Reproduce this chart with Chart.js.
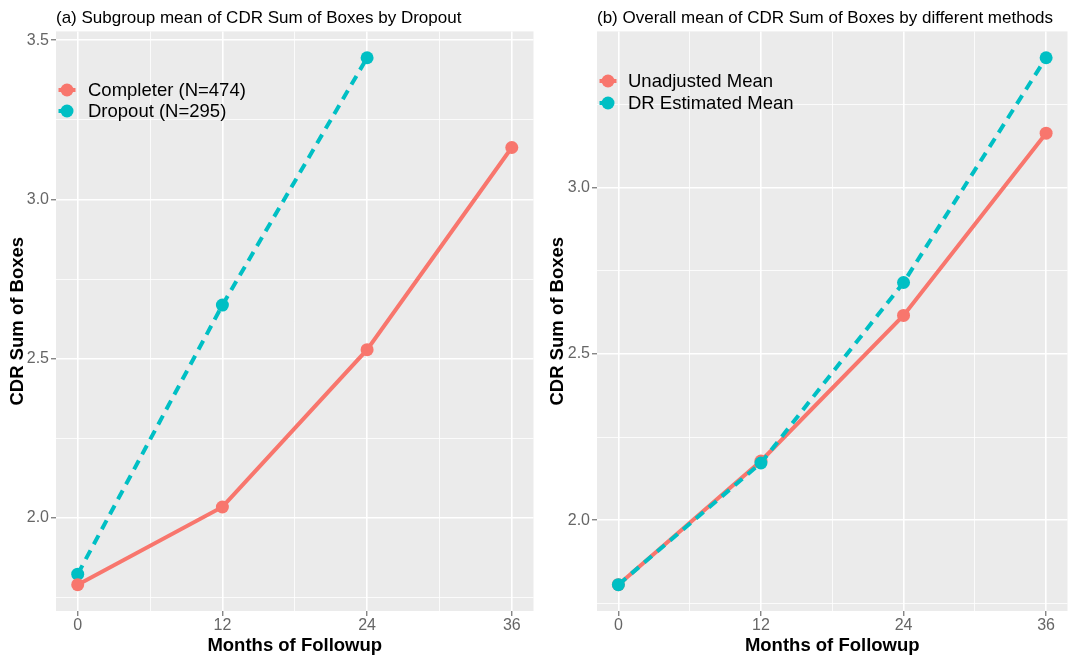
<!DOCTYPE html>
<html>
<head>
<meta charset="utf-8">
<script src="https://cdn.jsdelivr.net/npm/chart.js@4.4.1/dist/chart.umd.min.js"></script>
<style>
    html, body { margin: 0; padding: 0; background: #ffffff; }
    #wrap { position: relative; width: 1074px; height: 658px; }
    canvas { position: absolute; top: 0; }
    #chartA { left: 0; }
    #chartB { left: 540px; }
</style>
</head>
<body>
<div id="wrap">
    <canvas id="chartA" width="540" height="658"></canvas>
    <canvas id="chartB" width="534" height="658"></canvas>
</div>
<script>
// ggplot-like colours
const gg = {
    red: '#F8766D',
    cyan: '#00BFC4',
    panel: '#EBEBEB',
    grid: '#FFFFFF',
    tickText: '#666666',
    tickMark: '#555555',
    text: '#000000'
};

// Data
const months = [0, 12, 24, 36];
const completer = [1.790, 2.034, 2.528, 3.163];
const dropoutMonths = [0, 12, 24];
const dropout = [1.823, 2.668, 3.445];
const unadjusted = [1.806, 2.178, 2.616, 3.164];
const drEstimated = [1.806, 2.172, 2.715, 3.391];

// Axis ticks
const xMajor = [0, 12, 24, 36];
const xMinor = [6, 18, 30];
const yMajorA = [2.0, 2.5, 3.0, 3.5];
const yMajorB = [2.0, 2.5, 3.0];
const yMinor = [1.75, 2.25, 2.75, 3.25];

Chart.defaults.font.family = "'Liberation Sans', Arial, sans-serif";
Chart.defaults.animation = false;

const toPoints = (xs, ys) => xs.map((x, i) => ({ x: x, y: ys[i] }));

// ggplot style expansion of 5% on both sides
function expand(values) {
    const lo = Math.min(...values), hi = Math.max(...values);
    const pad = (hi - lo) * 0.05;
    return { min: lo - pad, max: hi + pad };
}

// Grey panel behind the grid
const panelBackground = {
    id: 'panelBackground',
    beforeDraw(chart) {
        const { ctx, chartArea: a } = chart;
        ctx.save();
        ctx.fillStyle = gg.panel;
        ctx.fillRect(a.left, a.top, a.right - a.left, a.bottom - a.top);
        ctx.restore();
    }
};

// Legend drawn inside the panel, ggplot style keys
const insideLegend = {
    id: 'insideLegend',
    afterDatasetsDraw(chart, args, opts) {
        const ctx = chart.ctx;
        chart.data.datasets.forEach((ds, i) => {
            const cx = opts.x, cy = opts.y + i * opts.gap;
            ctx.save();
            ctx.strokeStyle = ds.borderColor;
            ctx.lineWidth = ds.borderWidth;
            ctx.setLineDash(ds.borderDash || []);
            ctx.beginPath();
            ctx.moveTo(cx - 8.5, cy);
            ctx.lineTo(cx + 8.5, cy);
            ctx.stroke();
            ctx.setLineDash([]);
            ctx.fillStyle = ds.borderColor;
            ctx.beginPath();
            ctx.arc(cx, cy, 6.5, 0, Math.PI * 2);
            ctx.fill();
            ctx.fillStyle = gg.text;
            ctx.font = "18.5px 'Liberation Sans', Arial, sans-serif";
            ctx.textBaseline = 'middle';
            ctx.textAlign = 'left';
            ctx.fillText(ds.label, opts.textX, cy + 1);
            ctx.restore();
        });
    }
};

function seriesStyle(color, dashed) {
    return {
        borderColor: color,
        backgroundColor: color,
        borderWidth: 4,
        borderDash: dashed ? [10, 7] : [],
        pointRadius: 6.5,
        pointBorderWidth: 0,
        pointBackgroundColor: color,
        tension: 0,
        fill: false
    };
}

function makeOptions(p) {
    const yRange = expand(p.yValues);
    return {
        responsive: false,
        layout: { padding: { left: 0, right: p.padRight, top: 0, bottom: 0 } },
        plugins: {
            legend: { display: false },
            tooltip: { enabled: false },
            title: {
                display: true,
                text: p.title,
                align: 'start',
                fullSize: false,
                color: gg.text,
                font: { size: 17, weight: 'normal' },
                padding: { top: 8, bottom: 3 }
            },
            insideLegend: p.legend
        },
        scales: {
            x: {
                type: 'linear',
                min: -1.8,
                max: 37.8,
                afterBuildTicks: (s) => { s.ticks = xMajor.concat(xMinor).sort((a, b) => a - b).map(v => ({ value: v })); },
                afterFit: (s) => { s.height = 47; },
                ticks: {
                    color: gg.tickText,
                    font: { size: 16 },
                    padding: 0,
                    maxRotation: 0,
                    autoSkip: false,
                    callback: (v) => xMajor.includes(v) ? String(v) : ''
                },
                grid: {
                    color: gg.grid,
                    lineWidth: (c) => xMajor.includes(c.tick.value) ? 1.6 : 0.8,
                    tickColor: (c) => xMajor.includes(c.tick.value) ? gg.tickMark : 'rgba(0,0,0,0)',
                    tickLength: 5,
                    tickWidth: 1
                },
                border: { display: false },
                title: {
                    display: true,
                    text: 'Months of Followup',
                    color: gg.text,
                    font: { size: 18.5, weight: 'bold' },
                    padding: { top: 0, bottom: 1 }
                }
            },
            y: {
                type: 'linear',
                min: yRange.min,
                max: yRange.max,
                afterBuildTicks: (s) => { s.ticks = p.yMajor.concat(yMinor).sort((a, b) => a - b).map(v => ({ value: v })); },
                afterFit: (s) => { s.width = p.yWidth; },
                ticks: {
                    color: gg.tickText,
                    font: { size: 16 },
                    padding: 2,
                    autoSkip: false,
                    callback: (v) => p.yMajor.includes(v) ? v.toFixed(1) : ''
                },
                grid: {
                    color: gg.grid,
                    lineWidth: (c) => p.yMajor.includes(c.tick.value) ? 1.6 : 0.8,
                    tickColor: (c) => p.yMajor.includes(c.tick.value) ? gg.tickMark : 'rgba(0,0,0,0)',
                    tickLength: 5,
                    tickWidth: 1
                },
                border: { display: false },
                title: {
                    display: true,
                    text: 'CDR Sum of Boxes',
                    color: gg.text,
                    font: { size: 18.5, weight: 'bold' },
                    padding: { top: 7, bottom: 0 }
                }
            }
        }
    };
}

// (a) Subgroup means
new Chart(document.getElementById('chartA'), {
    type: 'line',
    data: {
        datasets: [
            Object.assign({ label: 'Completer (N=474)', data: toPoints(months, completer), order: 0 }, seriesStyle(gg.red, false)),
            Object.assign({ label: 'Dropout (N=295)', data: toPoints(dropoutMonths, dropout), order: 1 }, seriesStyle(gg.cyan, true))
        ]
    },
    options: makeOptions({
        title: '(a) Subgroup mean of CDR Sum of Boxes by Dropout',
        yValues: completer.concat(dropout),
        yMajor: yMajorA,
        yWidth: 56,
        padRight: 6,
        legend: { x: 67, y: 90, gap: 21, textX: 88 }
    }),
    plugins: [panelBackground, insideLegend]
});

// (b) Overall means by method
new Chart(document.getElementById('chartB'), {
    type: 'line',
    data: {
        datasets: [
            Object.assign({ label: 'Unadjusted Mean', data: toPoints(months, unadjusted), order: 1 }, seriesStyle(gg.red, false)),
            Object.assign({ label: 'DR Estimated Mean', data: toPoints(months, drEstimated), order: 0 }, seriesStyle(gg.cyan, true))
        ]
    },
    options: makeOptions({
        title: '(b) Overall mean of CDR Sum of Boxes by different methods',
        yValues: unadjusted.concat(drEstimated),
        yMajor: yMajorB,
        yWidth: 57,
        padRight: 1,
        legend: { x: 68, y: 81, gap: 22, textX: 88 }
    }),
    plugins: [panelBackground, insideLegend]
});
</script>
</body>
</html>
